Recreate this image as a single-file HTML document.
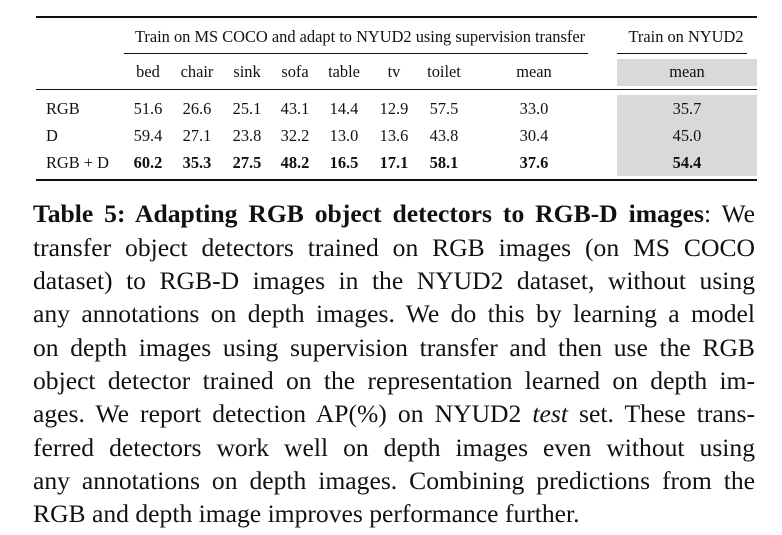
<!DOCTYPE html>
<html><head><meta charset="utf-8"><style>
body{margin:0;width:782px;height:535px;background:#fff;position:relative;overflow:hidden;font-family:"Liberation Serif","Times New Roman",serif;color:#111}
.a{position:absolute;white-space:nowrap}
.t{font-size:16.4px;transform:translate(-50%,-50%)}
.rule{position:absolute;background:#111}
.gray{position:absolute;background:#d9d9d9}
.cap{position:absolute;left:33px;width:722px;font-size:25.6px;line-height:33px;text-align:justify;text-align-last:justify;white-space:nowrap}
.cap.last{text-align-last:left}
b{font-weight:bold}
</style></head><body>
<div class="rule" style="left:36px;top:16px;width:721px;height:2px"></div>
<div class="a t" style="left:360px;top:37px">Train on MS COCO and adapt to NYUD2 using supervision transfer</div>
<div class="rule" style="left:124px;top:53px;width:464px;height:1px"></div>
<div class="a t" style="left:686px;top:37px">Train on NYUD2</div>
<div class="rule" style="left:617px;top:53px;width:130px;height:1px"></div>
<div class="gray" style="left:617px;top:59px;width:140px;height:27px"></div>
<div class="gray" style="left:617px;top:95px;width:140px;height:81px"></div>
<div class="rule" style="left:36px;top:89px;width:721px;height:1px"></div>
<div class="rule" style="left:36px;top:179px;width:721px;height:2px"></div>
<div id="tbl"></div>
<div class="cap" style="top:197px"><b>Table 5: Adapting RGB object detectors to RGB-D images</b>: We</div>
<div class="cap" style="top:231px">transfer object detectors trained on RGB images (on MS COCO</div>
<div class="cap" style="top:264px">dataset) to RGB-D images in the NYUD2 dataset, without using</div>
<div class="cap" style="top:297px">any annotations on depth images. We do this by learning a model</div>
<div class="cap" style="top:331px">on depth images using supervision transfer and then use the RGB</div>
<div class="cap" style="top:364px">object detector trained on the representation learned on depth im-</div>
<div class="cap" style="top:397px">ages. We report detection AP(%) on NYUD2 <i>test</i> set. These trans-</div>
<div class="cap" style="top:431px">ferred detectors work well on depth images even without using</div>
<div class="cap" style="top:464px">any annotations on depth images. Combining predictions from the</div>
<div class="cap last" style="top:497px">RGB and depth image improves performance further.</div>
<script>
const columns=["bed","chair","sink","sofa","table","tv","toilet","mean","mean"];
const rowLabels=["RGB","D","RGB + D"];
const rgbVals=["51.6","26.6","25.1","43.1","14.4","12.9","57.5","33.0","35.7"];
const dVals=["59.4","27.1","23.8","32.2","13.0","13.6","43.8","30.4","45.0"];
const rgbdVals=["60.2","35.3","27.5","48.2","16.5","17.1","58.1","37.6","54.4"];
const colX=[148,197,247,295,344,394,444,534,687];
const rowY=[109,136,163];
const host=document.getElementById('tbl');
function cell(txt,x,y,bold,name,left){
  const d=document.createElement('div');
  d.className='a t';
  d.textContent=txt;
  d.style.left=x+'px';d.style.top=y+'px';
  if(left)d.style.transform='translate(0,-50%)';
  if(bold)d.style.fontWeight='bold';
  
  
  host.appendChild(d);
}
columns.forEach((c,i)=>cell(c,colX[i],72,false,'col-header-'+c+(i===8?'-nyud2':''),false));
const rows=[rgbVals,dVals,rgbdVals];
rows.forEach((r,ri)=>{
  cell(rowLabels[ri],46,rowY[ri],false,'row-label-'+ri,true);
  r.forEach((v,ci)=>cell(v,colX[ci],rowY[ri],ri===2,'cell-'+ri+'-'+ci,false));
});
</script>
</body></html>
